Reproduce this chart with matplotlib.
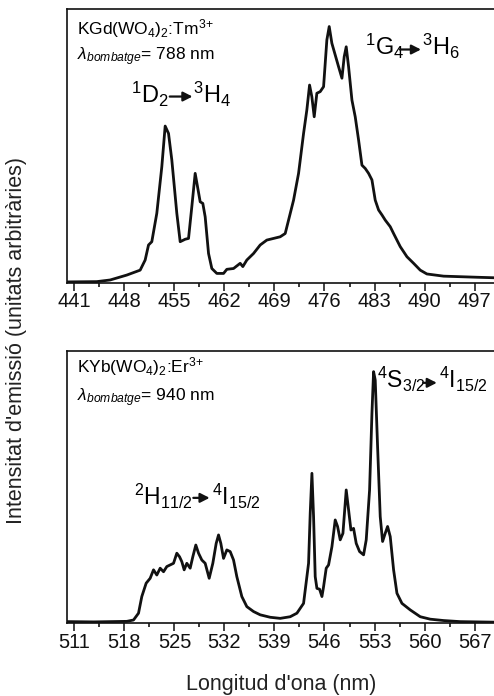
import matplotlib
matplotlib.use('Agg')
import matplotlib.pyplot as plt
import numpy as np

plt.rcParams['font.family'] = ['Liberation Sans', 'DejaVu Sans']
plt.rcParams['mathtext.fontset'] = 'custom'
plt.rcParams['mathtext.rm'] = 'Liberation Sans'
plt.rcParams['mathtext.it'] = 'Liberation Sans:italic'
plt.rcParams['mathtext.bf'] = 'Liberation Sans:bold'

# KGd(WO4)2:Tm3+ emission, excitation 788 nm
tm_wl = [440.0, 440.17, 444.13, 446.0, 448.33, 450.2, 450.9, 451.37, 451.83, 452.53,
         453.23, 453.7, 454.17, 454.63, 455.33, 455.8, 456.5, 456.97, 457.43, 457.9,
         458.23, 458.6, 458.97, 459.3, 459.77, 460.23, 460.93, 461.87, 462.33, 463.27,
         464.2, 464.57, 465.13, 466.07, 467.0, 467.93, 468.87, 469.8, 470.5, 470.97,
         471.67, 472.37, 473.07, 473.53, 473.91, 474.23, 474.56, 474.93, 475.4, 475.87,
         476.33, 476.66, 477.03, 477.5, 477.97, 478.44, 478.76, 479.04, 479.37, 479.84,
         480.3, 480.77, 481.24, 481.7, 482.17, 482.64, 483.1, 483.57, 484.04, 484.5,
         485.2, 485.67, 486.6, 487.54, 488.47, 489.4, 490.33, 492.67, 495.0, 497.33, 499.9]
tm_int = [0.003, 0.003, 0.004, 0.010, 0.028, 0.046, 0.083, 0.138, 0.150, 0.254,
          0.424, 0.573, 0.546, 0.449, 0.254, 0.150, 0.159, 0.162, 0.278, 0.400,
          0.351, 0.296, 0.290, 0.241, 0.107, 0.052, 0.034, 0.034, 0.049, 0.052,
          0.071, 0.059, 0.083, 0.107, 0.138, 0.156, 0.162, 0.168, 0.180, 0.229,
          0.302, 0.400, 0.546, 0.632, 0.723, 0.680, 0.607, 0.693, 0.699, 0.717,
          0.888, 0.937, 0.876, 0.833, 0.790, 0.748, 0.827, 0.863, 0.790, 0.668,
          0.607, 0.522, 0.430, 0.418, 0.400, 0.376, 0.302, 0.266, 0.248, 0.229,
          0.205, 0.180, 0.132, 0.095, 0.071, 0.046, 0.032, 0.024, 0.022, 0.020, 0.018]

# KYb(WO4)2:Er3+ emission, excitation 940 nm
er_wl = [510.0, 510.17, 513.67, 518.33, 519.27, 519.97, 520.43, 521.04, 521.6, 522.07,
         522.53, 523.0, 523.47, 523.93, 524.4, 524.87, 525.33, 525.71, 526.03, 526.36,
         526.73, 527.2, 527.57, 527.99, 528.37, 528.83, 529.3, 529.86, 530.37, 530.84,
         531.17, 531.49, 531.87, 532.33, 532.8, 533.27, 533.73, 534.43, 535.13, 536.07,
         537.0, 538.4, 539.8, 541.2, 542.14, 543.07, 543.77, 544.0, 544.24, 544.47,
         544.7, 544.94, 545.31, 545.64, 545.87, 546.24, 546.57, 547.04, 547.5, 547.83,
         548.2, 548.58, 549.04, 549.37, 549.7, 550.07, 550.44, 550.91, 551.47, 551.84,
         552.31, 552.64, 552.87, 553.1, 553.43, 553.8, 554.13, 554.5, 554.83, 555.2,
         555.67, 556.14, 556.84, 558.0, 559.4, 560.8, 562.67, 565.0, 569.9]
er_int = [0.006, 0.006, 0.005, 0.007, 0.012, 0.037, 0.098, 0.147, 0.165, 0.196,
          0.177, 0.202, 0.189, 0.208, 0.214, 0.220, 0.257, 0.244, 0.226, 0.196,
          0.220, 0.202, 0.244, 0.287, 0.257, 0.232, 0.220, 0.165, 0.220, 0.293,
          0.324, 0.293, 0.238, 0.269, 0.263, 0.232, 0.171, 0.098, 0.061, 0.043,
          0.031, 0.022, 0.018, 0.024, 0.037, 0.073, 0.220, 0.403, 0.550, 0.391,
          0.171, 0.128, 0.125, 0.098, 0.134, 0.202, 0.214, 0.281, 0.379, 0.355,
          0.306, 0.330, 0.489, 0.416, 0.342, 0.348, 0.293, 0.263, 0.251, 0.306,
          0.489, 0.770, 0.923, 0.892, 0.648, 0.391, 0.300, 0.330, 0.355, 0.318,
          0.196, 0.110, 0.073, 0.049, 0.024, 0.015, 0.010, 0.006, 0.004]

tm_ticks = [441, 448, 455, 462, 469, 476, 483, 490, 497]
er_ticks = [511, 518, 525, 532, 539, 546, 553, 560, 567]

fig = plt.figure(figsize=(4.94, 6.96), dpi=100)
ax1 = fig.add_axes([0.1362, 0.5938, 0.8678, 0.3928])
ax2 = fig.add_axes([0.1362, 0.1045, 0.8678, 0.3917])


def style_axis(ax, ticks, lo):
    ax.set_xlim(lo, lo + 60)
    ax.set_ylim(0, 1)
    ax.set_yticks([])
    ax.set_xticks(ticks)
    ax.set_xticklabels([str(t) for t in ticks])
    ax.set_xticks(np.array(ticks[:-1]) + 3.5, minor=True)
    ax.tick_params(axis='x', which='major', direction='out', length=5.5, width=1.1,
                   labelsize=14.5, pad=1.5, colors='#111111')
    ax.tick_params(axis='x', which='minor', direction='out', length=3, width=1.1)
    for s in ax.spines.values():
        s.set_linewidth(1.2)
        s.set_color('#111111')


def transition(ax, left, right, x_left, x_arrow0, x_arrow1, x_right, y, dy, size=17):
    ax.text(x_left, y, left, transform=ax.transAxes, fontsize=size, va='baseline', ha='left')
    ax.text(x_right, y, right, transform=ax.transAxes, fontsize=size, va='baseline', ha='left')
    ax.annotate('', xy=(x_arrow1, y + dy), xytext=(x_arrow0, y + dy),
                xycoords='axes fraction', textcoords='axes fraction',
                arrowprops=dict(arrowstyle='-|>,head_length=0.55,head_width=0.28',
                                lw=1.6, color='#111111', shrinkA=0, shrinkB=0))


ax1.plot(tm_wl, tm_int, color='#111111', lw=2.0, solid_joinstyle='round')
style_axis(ax1, tm_ticks, 440)
ax1.text(0.022, 0.908, r'KGd(WO$_4$)$_2$:Tm$^{3}$$^{+}$', transform=ax1.transAxes,
         fontsize=12.5, va='baseline')
ax1.text(0.022, 0.812, r'$\lambda_{bombatge}$= 788 nm', transform=ax1.transAxes,
         fontsize=12.5, va='baseline')
transition(ax1, r'$^{1}$D$_{2}$', r'$^{3}$H$_{4}$', 0.149, 0.239, 0.292, 0.294, 0.657, 0.024)
transition(ax1, r'$^{1}$G$_{4}$', r'$^{3}$H$_{6}$', 0.694, 0.776, 0.825, 0.827, 0.833, 0.020)

ax2.plot(er_wl, er_int, color='#111111', lw=2.0, solid_joinstyle='round')
style_axis(ax2, er_ticks, 510)
ax2.text(0.022, 0.922, r'KYb(WO$_4$)$_2$:Er$^{3}$$^{+}$', transform=ax2.transAxes,
         fontsize=12.5, va='baseline')
ax2.text(0.022, 0.815, r'$\lambda_{bombatge}$= 940 nm', transform=ax2.transAxes,
         fontsize=12.5, va='baseline')
transition(ax2, r'$^{2}$H$_{11/2}$', r'$^{4}$I$_{15/2}$', 0.156, 0.294, 0.332, 0.337, 0.434, 0.026,
           size=16.5)
transition(ax2, r'$^{4}$S$_{3/2}$', r'$^{4}$I$_{15/2}$', 0.722, 0.830, 0.862, 0.866, 0.862, 0.020,
           size=16.5)

fig.text(0.034, 0.511, "Intensitat d'emissió (unitats arbitràries)", rotation=90,
         ha='center', va='center', fontsize=15.5, color='#222222')
fig.text(0.569, 0.0086, "Longitud d'ona (nm)", ha='center', va='baseline',
         fontsize=15.5, color='#222222')

fig.savefig('out.png', dpi=100, facecolor='white')
